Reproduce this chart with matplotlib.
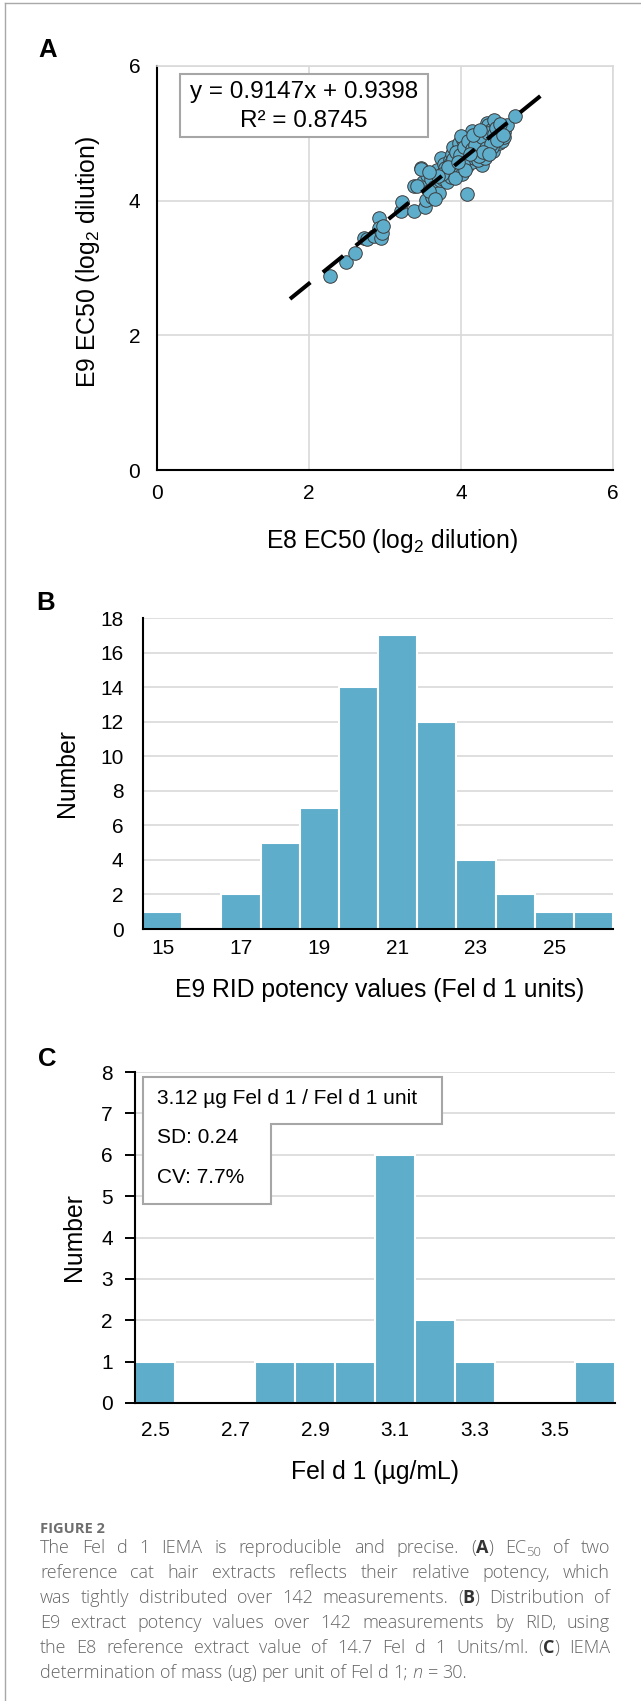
import re
import numpy as np
import matplotlib
matplotlib.use('Agg')
import matplotlib.pyplot as plt
from matplotlib.patches import Rectangle, Polygon
from matplotlib.lines import Line2D

# ---- data ----
# panel A: EC50 of the two reference extracts (log2 dilution)
e8_ec50 = [
    2.27, 2.49, 2.60, 2.73, 2.76, 2.85, 2.92, 2.92, 2.95, 2.96,
    2.97, 3.21, 3.23, 3.38, 3.38, 3.47, 3.50, 3.52, 3.54, 3.55,
    3.60, 3.62, 3.65, 3.68, 3.71, 3.72, 3.74, 3.76, 3.78, 3.79,
    3.80, 3.82, 3.84, 3.85, 3.87, 3.88, 3.90, 3.90, 3.92, 3.93,
    3.95, 3.96, 3.97, 3.98, 4.00, 4.01, 4.02, 4.03, 4.05, 4.06,
    4.07, 4.08, 4.08, 4.10, 4.11, 4.12, 4.13, 4.15, 4.15, 4.17,
    4.18, 4.20, 4.21, 4.23, 4.25, 4.26, 4.28, 4.30, 4.32, 4.34,
    4.36, 4.36, 4.38, 4.40, 4.42, 4.44, 4.45, 4.47, 4.50, 4.52,
    4.54, 4.57, 4.60, 4.71, 3.42, 3.48, 3.58, 3.66, 3.92, 4.00,
    4.22, 4.31, 4.41, 4.56, 3.86, 3.89, 3.94, 3.99, 4.04, 4.09,
    4.14, 4.19, 4.24, 4.27, 4.33, 4.35, 4.39, 4.43, 4.46, 4.48,
    4.51, 4.55, 3.75, 3.83, 3.70, 3.58, 4.02, 4.16, 4.29, 4.37,
    4.05, 3.96, 4.12, 4.25]
e9_ec50 = [
    2.88, 3.09, 3.22, 3.45, 3.43, 3.48, 3.74, 3.59, 3.44, 3.52,
    3.62, 3.85, 3.98, 3.85, 4.22, 4.49, 4.27, 3.90, 4.01, 4.38,
    4.32, 4.05, 4.20, 4.45, 4.12, 4.30, 4.63, 4.32, 4.55, 4.49,
    4.38, 4.28, 4.43, 4.60, 4.35, 4.70, 4.80, 4.52, 4.40, 4.66,
    4.63, 4.75, 4.50, 4.85, 4.58, 4.40, 4.70, 4.90, 4.62, 4.78,
    4.63, 4.10, 4.52, 4.82, 4.95, 4.86, 4.68, 5.04, 4.58, 4.63,
    4.90, 4.74, 4.82, 4.79, 4.92, 4.70, 4.53, 4.98, 4.85, 5.15,
    4.88, 5.12, 4.95, 5.05, 4.74, 5.20, 4.92, 5.01, 4.85, 5.09,
    4.88, 5.02, 5.12, 5.25, 4.22, 4.47, 4.15, 4.02, 4.33, 4.96,
    4.60, 4.64, 4.80, 4.95, 4.55, 4.62, 4.72, 4.68, 4.80, 4.88,
    4.76, 4.83, 4.66, 4.95, 4.78, 5.00, 4.84, 4.99, 5.08, 4.90,
    5.14, 4.98, 4.40, 4.50, 4.36, 4.42, 4.55, 4.97, 4.72, 4.70,
    4.45, 4.57, 4.70, 5.05]
fit_slope = 0.9147
fit_icpt = 0.9398
fit_range = [1.75, 5.08]

# panel B: RID potency histogram
rid_bins = [15, 16, 17, 18, 19, 20, 21, 22, 23, 24, 25, 26]
rid_counts = [1, 0, 2, 5, 7, 14, 17, 12, 4, 2, 1, 1]
rid_ticks = [15, 17, 19, 21, 23, 25]

# panel C: Fel d 1 mass per unit histogram
feld_bins = [2.5, 2.6, 2.7, 2.8, 2.9, 3.0, 3.1, 3.2, 3.3, 3.4, 3.5, 3.6]
feld_counts = [1, 0, 0, 1, 1, 1, 6, 2, 1, 0, 0, 1]
feld_ticks = [2.5, 2.7, 2.9, 3.1, 3.3, 3.5]
feld_labels = ['2.5', '2.7', '2.9', '3.1', '3.3', '3.5']

caption_lines = [
    "The Fel d 1 IEMA is reproducible and precise. (A) EC50 of two",
    "reference cat hair extracts reflects their relative potency, which",
    "was tightly distributed over 142 measurements. (B) Distribution of",
    "E9 extract potency values over 142 measurements by RID, using",
    "the E8 reference extract value of 14.7 Fel d 1 Units/ml. (C) IEMA",
    "determination of mass (ug) per unit of Fel d 1; n = 30.",
]

W, H = 641, 1701
BLUE = '#5eadcb'
GRID = '#d9d9d9'
TICK_FS = 15
LAB_FS = 17.8

plt.rcParams['font.family'] = ['Liberation Sans', 'DejaVu Sans']
plt.rcParams['mathtext.fontset'] = 'custom'
plt.rcParams['mathtext.rm'] = 'Liberation Sans'
plt.rcParams['mathtext.it'] = 'Liberation Sans:italic'
plt.rcParams['mathtext.bf'] = 'Liberation Sans:bold'

fig = plt.figure(figsize=(W / 100, H / 100), dpi=100)


def fx(x):
    return x / W


def fy(y):
    return 1 - y / H


def add_ax(l, t, r, b):
    return fig.add_axes([fx(l), fy(b), (r - l) / W, (b - t) / H])


def base_style(ax):
    ax.set_axisbelow(True)
    ax.spines['left'].set_color('black')
    ax.spines['bottom'].set_color('black')
    ax.spines['left'].set_linewidth(1.5)
    ax.spines['bottom'].set_linewidth(1.5)
    ax.spines['top'].set_visible(False)
    ax.spines['right'].set_visible(False)
    ax.grid(axis='y', color=GRID, lw=1.2)
    ax.tick_params(length=0, labelsize=TICK_FS)


# frame lines of the page
fig.add_artist(Line2D([fx(4.5), fx(4.5)], [fy(H), fy(3.5)], color='#a8a8a8', lw=1))
fig.add_artist(Line2D([fx(4.5), fx(W)], [fy(3.5), fy(3.5)], color='#a8a8a8', lw=1))

# ---------------- panel A ----------------
axA = add_ax(157, 66, 613, 470)
base_style(axA)
axA.grid(axis='x', color=GRID, lw=1.2)
axA.spines['top'].set_visible(True)
axA.spines['right'].set_visible(True)
axA.spines['top'].set_color(GRID)
axA.spines['right'].set_color(GRID)
axA.spines['top'].set_linewidth(1.2)
axA.spines['right'].set_linewidth(1.2)
axA.set_xlim(0, 6)
axA.set_ylim(0, 6)
axA.set_xticks([0, 2, 4, 6])
axA.set_yticks([0, 2, 4, 6])
axA.tick_params(axis='y', pad=12)
axA.tick_params(axis='x', pad=10)
axA.scatter(e8_ec50, e9_ec50, s=95, color=BLUE, edgecolors='#3c3c3c',
            linewidths=0.7, zorder=3, clip_on=False)
xs = np.array(fit_range)
axA.plot(xs, fit_slope * xs + fit_icpt, color='black', lw=2.9,
         dashes=(6.5, 4), dash_capstyle='butt', zorder=4)

fig.add_artist(Rectangle((fx(180), fy(137)), 248 / W, 63 / H, transform=fig.transFigure,
                         fc='white', ec='#a6a6a6', lw=1.5))
fig.text(fx(304), fy(92), 'y = 0.9147x + 0.9398', ha='center', va='center', fontsize=17.5)
fig.text(fx(304), fy(121), 'R² = 0.8745', ha='center', va='center', fontsize=17.5)

fig.text(fx(48), fy(50), 'A', ha='center', va='center', fontsize=18.5, fontweight='bold')
fig.text(fx(88), fy(262), r'E9 EC50 (log$_2$ dilution)', rotation=90,
         ha='center', va='center', fontsize=LAB_FS)
fig.text(fx(392), fy(541), r'E8 EC50 (log$_2$ dilution)', ha='center', va='center',
         fontsize=LAB_FS)

# ---------------- panel B ----------------
axB = add_ax(143, 618, 613, 929)
base_style(axB)
axB.bar(rid_bins, rid_counts, width=1.0, color=BLUE, edgecolor='white', linewidth=1.5)
axB.set_xlim(14.5, 26.5)
axB.set_ylim(0, 18)
axB.set_yticks(range(0, 19, 2))
axB.set_xticks(rid_ticks)
axB.tick_params(axis='y', pad=14)
axB.tick_params(axis='x', pad=7)

fig.text(fx(46), fy(603), 'B', ha='center', va='center', fontsize=18.5, fontweight='bold')
fig.text(fx(67), fy(773), 'Number', rotation=90, ha='center', va='center', fontsize=LAB_FS)
fig.text(fx(380), fy(990), 'E9 RID potency values (Fel d 1 units)', ha='center',
         va='center', fontsize=LAB_FS)

# ---------------- panel C ----------------
axC = add_ax(135, 1072, 615, 1403)
base_style(axC)
axC.bar(feld_bins, feld_counts, width=0.1, color=BLUE, edgecolor='white', linewidth=1.5)
axC.set_xlim(2.45, 3.65)
axC.set_ylim(0, 8)
axC.set_yticks(range(0, 9))
axC.set_xticks(feld_ticks)
axC.set_xticklabels(feld_labels)
axC.tick_params(axis='y', length=7, width=1.4, direction='out', pad=9)
axC.tick_params(axis='x', pad=13)

boxC = [(143, 1077), (442, 1077), (442, 1124), (271, 1124), (271, 1204), (143, 1204)]
fig.add_artist(Polygon([(fx(a), fy(b)) for a, b in boxC], closed=True,
                       transform=fig.transFigure, fc='white', ec='#a6a6a6', lw=1.5))
fig.text(fx(157), fy(1099), '3.12 µg Fel d 1 / Fel d 1 unit', va='center', fontsize=15)
fig.text(fx(157), fy(1137), 'SD: 0.24', va='center', fontsize=15)
fig.text(fx(157), fy(1177), 'CV: 7.7%', va='center', fontsize=15)

fig.text(fx(47), fy(1059), 'C', ha='center', va='center', fontsize=18.5, fontweight='bold')
fig.text(fx(74), fy(1237), 'Number', rotation=90, ha='center', va='center', fontsize=LAB_FS)
fig.text(fx(375), fy(1472), 'Fel d 1 (µg/mL)', ha='center', va='center', fontsize=LAB_FS)

# ---------------- caption ----------------
CAP_FONT = ['Open Sans', 'DejaVu Sans']
CAP_FS = 13
CAP_COL = '#666666'

fig.text(fx(40), fy(1533), 'FIGURE 2', family=CAP_FONT, fontsize=10.5,
         fontweight='bold', color='#6e6e6e', va='baseline')

renderer = fig.canvas.get_renderer()


def word_segments(w):
    m = re.fullmatch(r'\(([ABC])\)', w)
    if m:
        return [('(', {}), (m.group(1), {'fontweight': 'bold', 'color': '#333333'}), (')', {})]
    if w == 'EC50':
        return [('EC', {}), ('50', {'fontsize': CAP_FS * 0.72, 'dy': 3})]
    if w == 'n':
        return [('n', {'fontstyle': 'italic'})]
    return [(w, {})]


def make_text(s, kw):
    kw = dict(kw)
    kw.pop('dy', None)
    opts = dict(family=CAP_FONT, fontsize=CAP_FS, color=CAP_COL, va='baseline',
                fontweight='light')
    opts.update(kw)
    return fig.text(0, 0, s, **opts)


probe = make_text('a a', {})
w_aa = make_text('aa', {})
space_w = probe.get_window_extent(renderer).width - w_aa.get_window_extent(renderer).width
probe.remove()
w_aa.remove()

x_left, x_right = 40, 610
base0, step = 1553, 25
for i, line in enumerate(caption_lines):
    words = []
    for w in line.split(' '):
        segs = []
        for s, kw in word_segments(w):
            t = make_text(s, kw)
            segs.append((t, t.get_window_extent(renderer).width, kw.get('dy', 0)))
        words.append(segs)
    widths = [sum(sw for _, sw, _ in segs) for segs in words]
    if i < len(caption_lines) - 1:
        gap = (x_right - x_left - sum(widths)) / (len(words) - 1)
    else:
        gap = space_w
    x = x_left
    yb = base0 + i * step
    for segs, ww in zip(words, widths):
        xx = x
        for t, sw, dy in segs:
            t.set_position((fx(xx), fy(yb + dy)))
            xx += sw
        x += ww + gap

fig.savefig('out.png', dpi=100)
